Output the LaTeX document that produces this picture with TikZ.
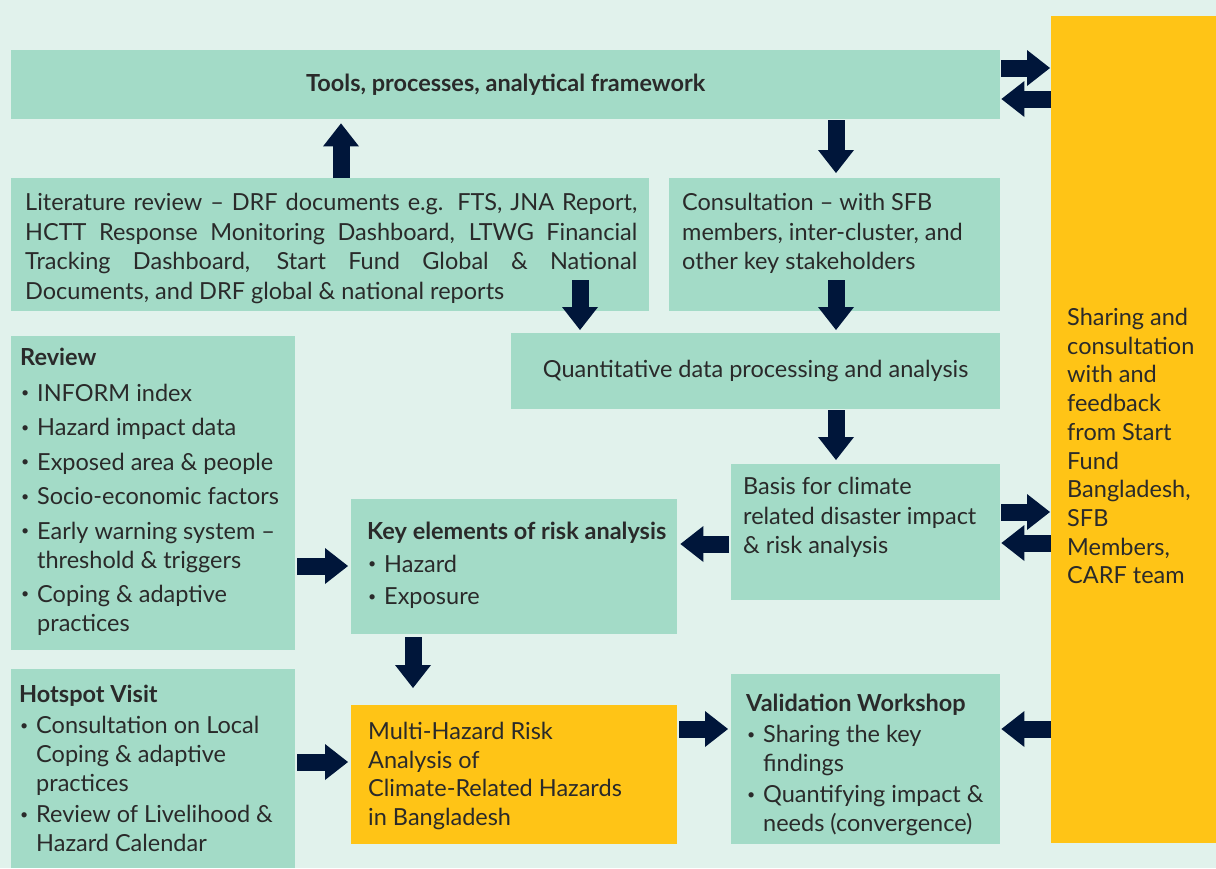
\documentclass[tikz,border=0pt]{standalone}
\usepackage{fontspec}
\usepackage{graphicx}
\setmainfont{Lato}
\usetikzlibrary{arrows.meta}
\definecolor{bgc}{HTML}{E1F2EC}
\definecolor{boxc}{HTML}{A3DBC7}
\definecolor{yel}{HTML}{FFC416}
\definecolor{navy}{HTML}{00163A}
\definecolor{txtc}{HTML}{2A2A2A}
\newcommand\bl{\makebox[17pt][l]{\hspace{1pt}\raisebox{3.5pt}{\scalebox{0.6}{\textbullet}}}}
\newcommand\ind{\hspace*{17pt}}
\newcommand\jl[1]{\makebox[612pt][s]{#1}}
\tikzset{
  box/.style={fill=boxc, inner sep=0pt, anchor=north west},
  ybox/.style={fill=yel, inner sep=0pt, anchor=north west},
  txt/.style={text=txtc, font=\fontsize{23.5}{29.5}\selectfont, align=left, inner sep=0pt, anchor=north west},
  blk/.style={draw=navy, line width=17pt, -{Triangle[width=36pt,length=23pt,line width=0pt]}},
}
\begin{document}
\begin{tikzpicture}[x=1pt,y=-1pt]
\fill[bgc] (0,0) rectangle (1216,868);
\useasboundingbox (0,0) rectangle (1216,868);
% boxes
\node[box, minimum width=989pt, minimum height=69pt] (tools) at (11,50) {};
\node[ybox, minimum width=165pt, minimum height=827pt] (panel) at (1051,16) {};
\node[box, minimum width=638pt, minimum height=133pt] (lit) at (11,178) {};
\node[box, minimum width=331pt, minimum height=133pt] (cons) at (669,178) {};
\node[box, minimum width=489pt, minimum height=76pt] (quant) at (511,333) {};
\node[box, minimum width=284pt, minimum height=314pt] (review) at (11,336) {};
\node[box, minimum width=269pt, minimum height=136pt] (basis) at (731,464) {};
\node[box, minimum width=326pt, minimum height=135pt] (key) at (351,499) {};
\node[box, minimum width=284pt, minimum height=199pt] (hot) at (11,669) {};
\node[ybox, minimum width=326pt, minimum height=139pt] (multi) at (351,705) {};
\node[box, minimum width=269pt, minimum height=170pt] (valid) at (731,674) {};
% texts
\node[txt, anchor=center, font=\fontsize{23.5}{29.5}\selectfont\bfseries] (toolsT) at (tools.center) {Tools, processes, analytical framework};
\node[txt] (litT) at (25,193) {\jl{Literature review -- DRF documents e.g. FTS, JNA Report,}\\\jl{HCTT Response Monitoring Dashboard, LTWG Financial}\\\jl{Tracking Dashboard, Start Fund Global \& National}\\Documents, and DRF global \& national reports};
\node[txt] (consT) at (682,193) {Consultation -- with SFB\\members, inter-cluster, and\\other key stakeholders};
\node[txt, anchor=center] (quantT) at (quant.center) {Quantitative data processing and analysis};
\node[txt] (reviewT) at (20,348) {\textbf{Review}\\[6pt]\bl INFORM index\\[5pt]\bl Hazard impact data\\[5pt]\bl Exposed area \& people\\[5pt]\bl Socio-economic factors\\[5pt]\bl Early warning system --\\\ind threshold \& triggers\\[4pt]\bl Coping \& adaptive\\\ind practices};
\node[txt] (basisT) at (743,477) {Basis for climate\\related disaster impact\\\& risk analysis};
\node[txt] (keyT) at (367,522) {\textbf{Key elements of risk analysis}\\[3pt]\bl Hazard\\[3pt]\bl Exposure};
\node[txt, font=\fontsize{23.5}{29}\selectfont] (hotT) at (19,685) {\textbf{Hotspot Visit}\\[2pt]\bl Consultation on Local\\\ind Coping \& adaptive\\\ind practices\\[2pt]\bl Review of Livelihood \&\\\ind Hazard Calendar};
\node[txt, font=\fontsize{23.5}{28.7}\selectfont] (multiT) at (368,722) {Multi-Hazard Risk\\Analysis of\\Climate-Related Hazards\\in Bangladesh};
\node[txt, font=\fontsize{23.5}{29}\selectfont] (validT) at (746,694) {\textbf{Validation Workshop}\\[2pt]\bl Sharing the key\\\ind findings\\[2pt]\bl Quantifying impact \&\\\ind needs (convergence)};
\node[txt, font=\fontsize{23.5}{28.7}\selectfont] (panelT) at (1067,308) {Sharing and\\consultation\\with and\\feedback\\from Start\\Fund\\Bangladesh,\\SFB\\Members,\\CARF team};
% arrows
\draw[blk] ([xshift=330pt]lit.north west) -- ([xshift=330pt,yshift=-4pt]tools.south west);
\draw[blk] ([xshift=825pt,yshift=-1pt]tools.south west) -- ([xshift=167pt,yshift=5pt]cons.north west);
\draw[blk] ([xshift=569pt,yshift=31pt]lit.south west) -- ([xshift=69pt,yshift=3pt]quant.north west);
\draw[blk] ([xshift=167pt,yshift=31pt]cons.south west) -- ([xshift=325pt,yshift=3pt]quant.north west);
\draw[blk] ([xshift=325pt,yshift=-1pt]quant.south west) -- ([xshift=105pt,yshift=4pt]basis.north west);
\draw[blk] ([xshift=-2pt,yshift=-80pt]basis.north west) -- ([xshift=3pt,yshift=-45pt]key.north east);
\draw[blk] ([xshift=2pt,yshift=-230pt]review.north east) -- ([xshift=-3pt,yshift=-67pt]key.north west);
\draw[blk] ([xshift=62pt,yshift=-3pt]key.south west) -- ([xshift=62pt,yshift=17pt]multi.north west);
\draw[blk] ([xshift=2pt,yshift=-93pt]hot.north east) -- ([xshift=-3pt,yshift=-57pt]multi.north west);
\draw[blk] ([xshift=2pt,yshift=-24pt]multi.north east) -- ([xshift=-3pt,yshift=-55pt]valid.north west);
\draw[blk] ([xshift=1pt,yshift=-18pt]tools.north east) -- ([xshift=-1pt,yshift=-52pt]panel.north west);
\draw[blk] ([yshift=-83pt]panel.north west) -- ([xshift=1pt,yshift=-49pt]tools.north east);
\draw[blk] ([xshift=1pt,yshift=-48pt]basis.north east) -- ([xshift=-1pt,yshift=-496pt]panel.north west);
\draw[blk] ([yshift=-527pt]panel.north west) -- ([xshift=1pt,yshift=-79pt]basis.north east);
\draw[blk] ([yshift=-713pt]panel.north west) -- ([xshift=1pt,yshift=-55pt]valid.north east);
\end{tikzpicture}
\end{document}
